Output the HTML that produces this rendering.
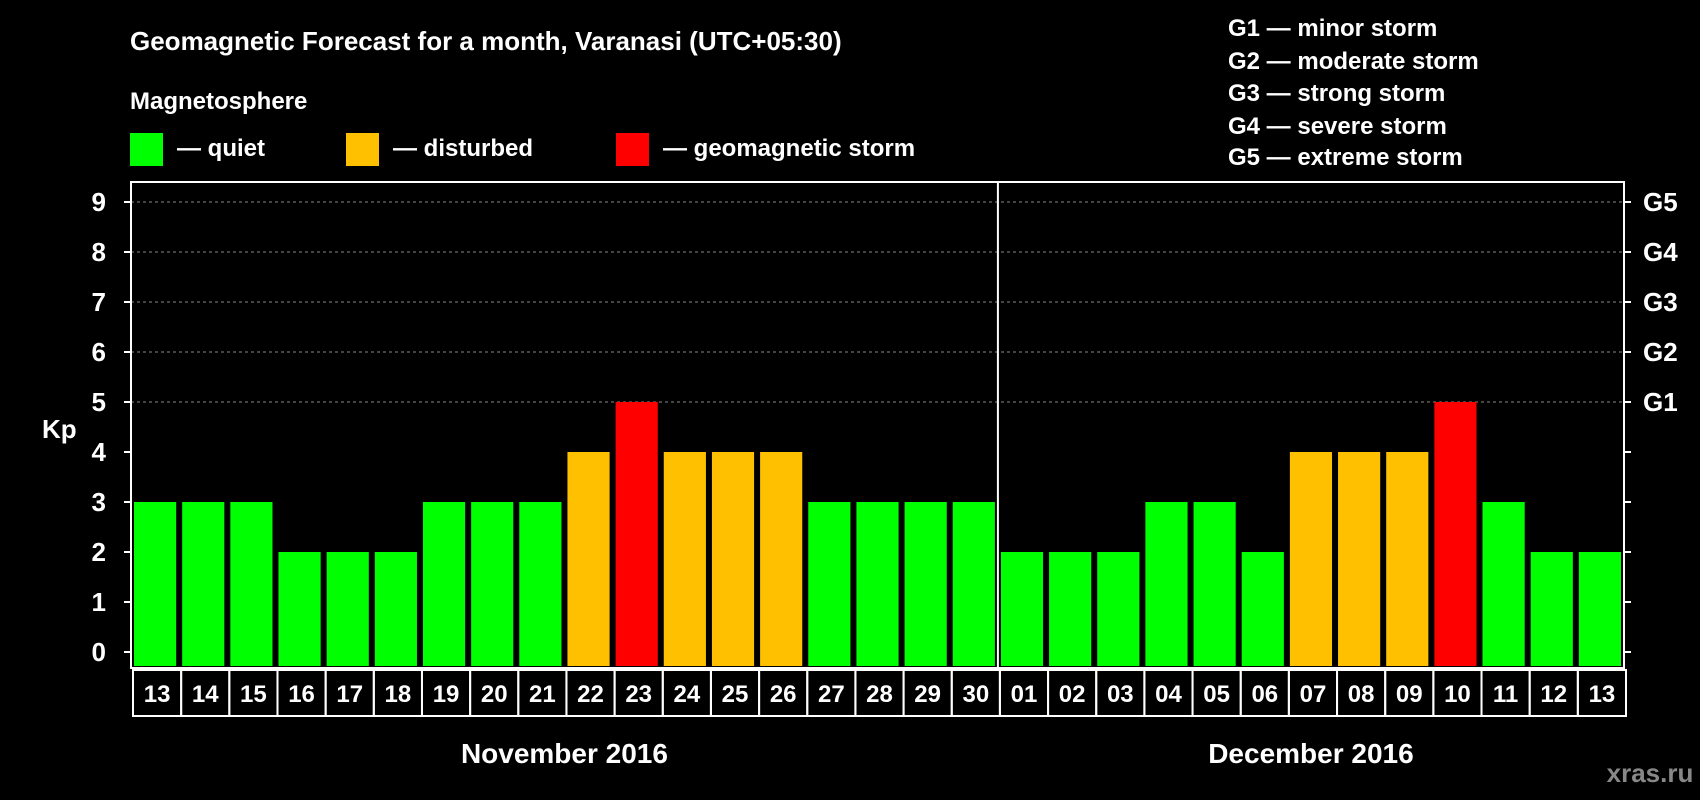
<!DOCTYPE html>
<html><head><meta charset="utf-8"><style>
body{margin:0;background:#000;width:1700px;height:800px;overflow:hidden}
svg{display:block;font-family:"Liberation Sans",Arial,sans-serif;font-weight:bold}
</style></head><body>
<svg id="chart" width="1700" height="800">
<text x="130" y="50" fill="#fff" font-size="26">Geomagnetic Forecast for a month, Varanasi (UTC+05:30)</text>
<text x="130" y="109" fill="#fff" font-size="24">Magnetosphere</text>
<rect x="130" y="133" width="33" height="33" fill="#00ff00"/>
<text x="177" y="156" fill="#fff" font-size="24">— quiet</text>
<rect x="346" y="133" width="33" height="33" fill="#ffc000"/>
<text x="393" y="156" fill="#fff" font-size="24">— disturbed</text>
<rect x="616" y="133" width="33" height="33" fill="#ff0000"/>
<text x="663" y="156" fill="#fff" font-size="24">— geomagnetic storm</text>
<g fill="#fff" font-size="24">
<text x="1228" y="36">G1 — minor storm</text>
<text x="1228" y="69">G2 — moderate storm</text>
<text x="1228" y="101">G3 — strong storm</text>
<text x="1228" y="134">G4 — severe storm</text>
<text x="1228" y="165">G5 — extreme storm</text>
</g>
<text x="42" y="438" fill="#fff" font-size="26">Kp</text>
<text x="1650" y="782" fill="#888" font-size="26" text-anchor="middle">xras.ru</text>
</svg>
<script>
const days=["13","14","15","16","17","18","19","20","21","22","23","24","25","26","27","28","29","30","01","02","03","04","05","06","07","08","09","10","11","12","13"];
const kp=[3,3,3,2,2,2,3,3,3,4,5,4,4,4,3,3,3,3,2,2,2,3,3,2,4,4,4,5,3,2,2];
const yTicks=[0,1,2,3,4,5,6,7,8,9];
const gLabels=["G1","G2","G3","G4","G5"];
const gLevels=[5,6,7,8,9];
const months=["November 2016","December 2016"];
const monthLen=[18,13];
const NS="http://www.w3.org/2000/svg";
const svg=document.getElementById('chart');
const L=131,R=1624,T=182,B=668,Y0=652,Y9=202;
const n=days.length,slot=(R-L)/n;
const y=v=>Y0-(Y0-Y9)*v/9;
const x=i=>L+i*slot;
function mk(t,a,p){const e=document.createElementNS(NS,t);for(const k in a)e.setAttribute(k,a[k]);(p||svg).appendChild(e);return e;}
// grid
for(const v of yTicks){
 if(v>=5){const g=mk('line',{x1:L,x2:R,y1:y(v),y2:y(v),stroke:'#888','stroke-dasharray':'3,3'});
 
 }
 const t=mk('text',{x:106,y:y(v)+9,fill:'#fff','font-size':26,'text-anchor':'end'});t.textContent=v;
 
 
 mk('line',{x1:L-7,x2:L,y1:y(v),y2:y(v),stroke:'#fff','stroke-width':2});
 mk('line',{x1:R,x2:R+7,y1:y(v),y2:y(v),stroke:'#fff','stroke-width':2});
}
gLabels.forEach((g,i)=>{const t=mk('text',{x:1643,y:y(gLevels[i])+9,fill:'#fff','font-size':26});t.textContent=g;
 
 });
// bars
kp.forEach((v,i)=>{
 const c=v>=5?'#ff0000':v>=4?'#ffc000':'#00ff00';
 const b=mk('rect',{x:x(i)+3,y:y(v),width:slot-6,height:B-y(v)-2,fill:c});
 
 
 const bx=mk('rect',{x:x(i)+2,y:670,width:slot,height:46,fill:'none',stroke:'#fff','stroke-width':2});
 
 
 const t=mk('text',{x:x(i)+2+slot/2,y:702,fill:'#fff','font-size':24,'text-anchor':'middle'});t.textContent=days[i];
 
 
});
// frame
const f=mk('rect',{x:L,y:T,width:R-L,height:B-T,fill:'none',stroke:'#fff','stroke-width':2});


let off=0;
months.forEach((m,i)=>{
 if(i>0){const d=mk('line',{x1:x(off),x2:x(off),y1:T,y2:B,stroke:'#fff','stroke-width':2});
 
 }
 const t=mk('text',{x:x(off+monthLen[i]/2),y:763,fill:'#fff','font-size':28,'text-anchor':'middle'});t.textContent=m;
 
 
 off+=monthLen[i];
});
</script>
</body></html>
